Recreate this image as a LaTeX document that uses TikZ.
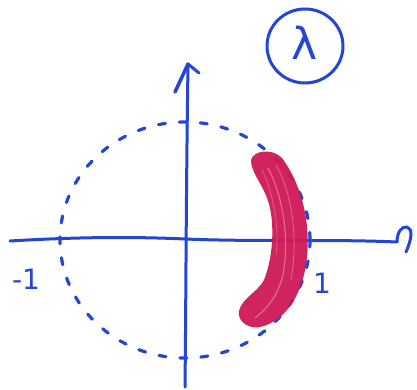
\documentclass[tikz,border=0pt]{standalone}
\usepackage{fontspec}
\setmainfont{DejaVu Sans}
\begin{document}
\begin{tikzpicture}[x=1pt,y=-1pt,
  pen/.style={draw=penblue,line width=3pt,line cap=round,line join=round},
  lbl/.style={text=penblue,inner sep=0pt}]
\definecolor{penblue}{RGB}{35,70,215}
\definecolor{marker}{RGB}{205,25,85}
\definecolor{markerlight}{RGB}{235,120,160}
\fill[white] (0,0) rectangle (417,390);
\useasboundingbox (0,0) rectangle (417,390);
% dashed unit circle
\draw[pen,line width=3.2pt,dash pattern=on 7pt off 14pt] (185,240) ellipse [x radius=125,y radius=118];
% horizontal axis
\draw[pen] (10,241) .. controls (60,238) and (120,236) .. (185,239) .. controls (260,242) and (330,239) .. (397,242);
\draw[pen] (397,242) .. controls (397,232) and (402,226) .. (407,227) .. controls (413,229) and (412,238) .. (406,252);
% vertical axis
\draw[pen] (185,387) .. controls (186,300) and (186,200) .. (188,64);
\draw[pen,line width=3.5pt] (188,64) -- (175,92);
\draw[pen] (188,64) -- (199,73);
% crescent
\fill[marker,opacity=0.95] (251,160) .. controls (254,150) and (272,148) .. (282,158)
  .. controls (302,185) and (312,225) .. (306,265)
  .. controls (301,295) and (287,318) .. (264,326)
  .. controls (250,331) and (237,322) .. (239,311)
  .. controls (242,298) and (258,292) .. (264,280)
  .. controls (274,255) and (275,218) .. (267,198)
  .. controls (261,182) and (251,172) .. (251,160) -- cycle;
\draw[markerlight,line width=1.2pt,opacity=0.8,line cap=round] (268,168) .. controls (282,195) and (290,235) .. (283,275) .. controls (278,295) and (268,308) .. (255,318);
\draw[markerlight,line width=0.9pt,opacity=0.7,line cap=round] (276,165) .. controls (293,195) and (298,240) .. (291,280);
\draw[markerlight,line width=0.9pt,opacity=0.6,line cap=round] (262,170) .. controls (272,190) and (280,225) .. (276,255);
% labels
\node[lbl,font=\fontsize{28}{28}\selectfont] (m1) at (26,279) {-1};
\node[lbl,font=\fontsize{28}{28}\selectfont] (p1) at (322,283) {1};
\node[lbl,font=\fontsize{44}{44}\selectfont] (lam) at (305,43) {λ};
\draw[pen] (305,46) ellipse [x radius=38,y radius=37];
\end{tikzpicture}
\end{document}
